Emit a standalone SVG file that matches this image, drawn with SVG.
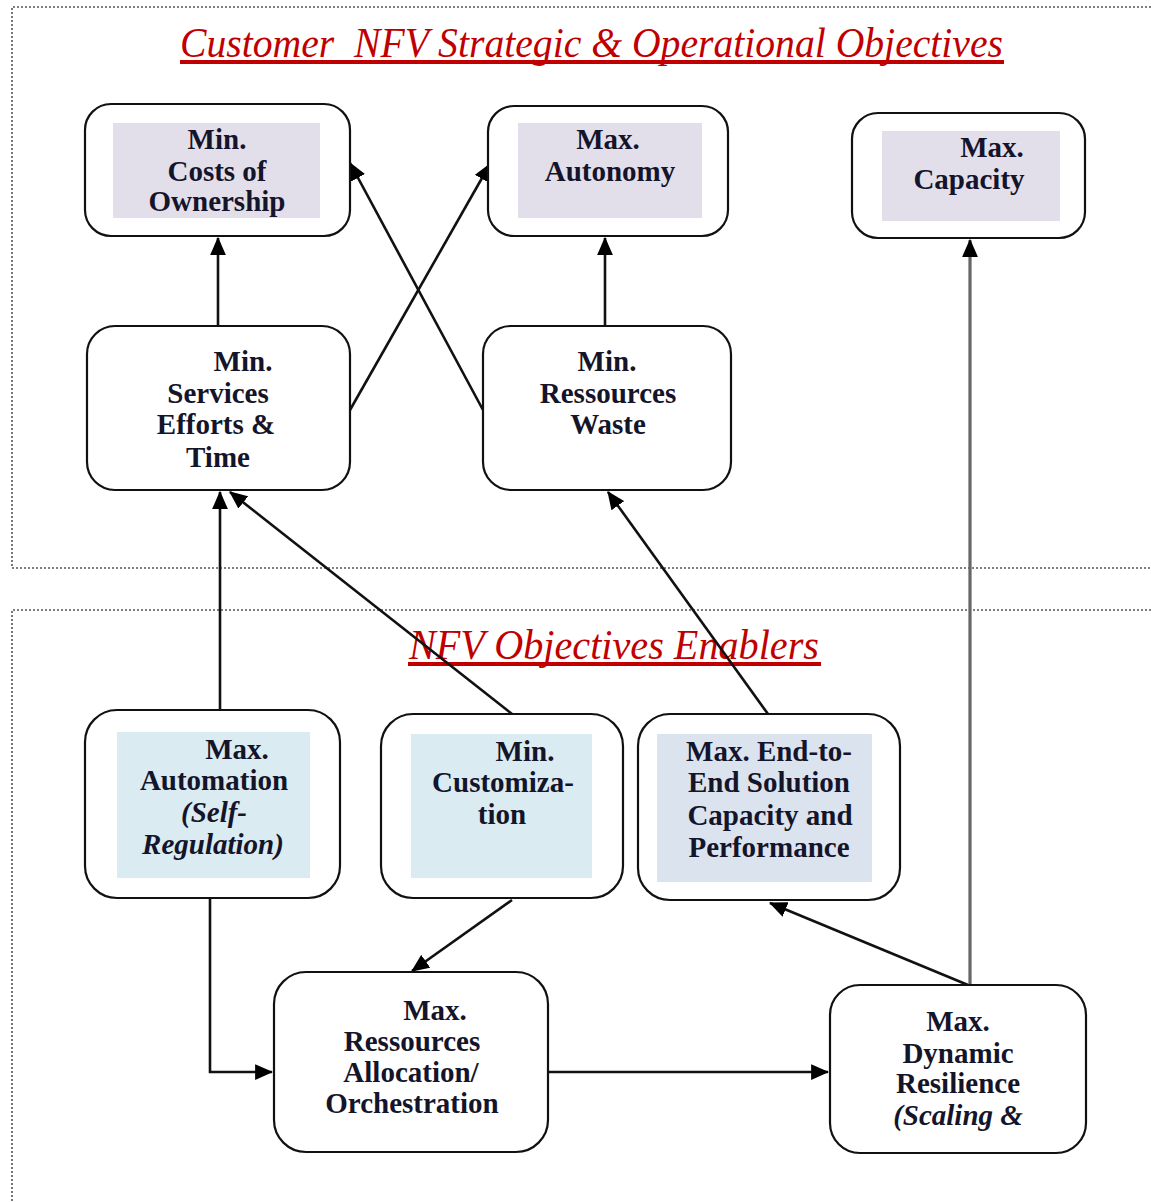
<svg xmlns="http://www.w3.org/2000/svg" width="1151" height="1202" viewBox="0 0 1151 1202">
  <style>
    .frame { fill: none; stroke: #555; stroke-width: 1.6; stroke-dasharray: 2 2; }
    .title { font-family: 'Liberation Serif', Tinos, 'Times New Roman', 'DejaVu Serif', serif; font-style: italic; fill: #c00000; white-space: pre; }
    .uline { fill: #c00000; }
    .box { fill: #fff; stroke: #111; stroke-width: 2.2; }
    .lav { fill: #e3dfea; }
    .blue { fill: #daebf2; }
    .steel { fill: #dbe3ef; }
    .lbl { font-family: 'Liberation Serif', Tinos, 'Times New Roman', 'DejaVu Serif', serif; font-weight: bold; font-size: 29px; fill: #14142a; text-anchor: middle; }
    .it { font-style: italic; }
    .conn { fill: none; stroke: #111; stroke-width: 2.6; }
    .grey { stroke: #666; stroke-width: 3.2; }
  </style>
  <defs>
    <marker id="arrow" viewBox="0 0 16 14" refX="15" refY="7" markerWidth="18" markerHeight="16" markerUnits="userSpaceOnUse" orient="auto">
      <path d="M0,0 L16,7 L0,14 Z" fill="#000"/>
    </marker>
  </defs>

  <rect width="1151" height="1202" fill="#fff"/>

  <!-- section frames -->
  <g id="frames">
    <path class="frame" d="M1151,7 H12 V568 H1151"/>
    <path class="frame" d="M1151,610 H12 V1202"/>
  </g>

  <!-- section titles -->
  <g id="title-objectives">
    <text class="title" x="180" y="57" font-size="42" textLength="823" lengthAdjust="spacingAndGlyphs" xml:space="preserve">Customer  NFV Strategic &amp; Operational Objectives</text>
    <rect class="uline" x="180" y="60" width="824" height="4"/>
  </g>
  <g id="title-enablers">
    <text class="title" x="409" y="659" font-size="42" textLength="410" lengthAdjust="spacingAndGlyphs">NFV Objectives Enablers</text>
    <rect class="uline" x="408" y="662" width="413" height="4"/>
  </g>

  <!-- connectors -->
  <g id="connectors">
    <line class="conn" x1="218" y1="326" x2="218" y2="238" marker-end="url(#arrow)"/>
    <line class="conn" x1="350" y1="410" x2="490" y2="164" marker-end="url(#arrow)"/>
    <line class="conn" x1="483" y1="410" x2="350" y2="163" marker-end="url(#arrow)"/>
    <line class="conn" x1="605" y1="326" x2="605" y2="238" marker-end="url(#arrow)"/>
    <line class="conn grey" x1="970" y1="985" x2="970" y2="240" marker-end="url(#arrow)"/>
    <line class="conn" x1="220" y1="710" x2="220" y2="492" marker-end="url(#arrow)"/>
    <line class="conn" x1="512" y1="714" x2="230" y2="492" marker-end="url(#arrow)"/>
    <line class="conn" x1="768" y1="714" x2="608" y2="492" marker-end="url(#arrow)"/>
    <path class="conn" d="M210,898 V1072 H272" marker-end="url(#arrow)"/>
    <line class="conn" x1="512" y1="900" x2="412" y2="971" marker-end="url(#arrow)"/>
    <line class="conn" x1="548" y1="1072" x2="828" y2="1072" marker-end="url(#arrow)"/>
    <line class="conn" x1="968" y1="985" x2="770" y2="903" marker-end="url(#arrow)"/>
  </g>

  <!-- objectives -->
  <g id="min-costs">
    <rect class="box" x="85" y="104" width="265" height="132" rx="26"/>
    <rect class="lav" x="113" y="123" width="207" height="95"/>
    <text class="lbl" x="217" y="149">Min.</text>
    <text class="lbl" x="217" y="181">Costs of</text>
    <text class="lbl" x="217" y="211">Ownership</text>
  </g>
  <g id="max-autonomy">
    <rect class="box" x="488" y="106" width="240" height="130" rx="26"/>
    <rect class="lav" x="518" y="123" width="184" height="95"/>
    <text class="lbl" x="608" y="149">Max.</text>
    <text class="lbl" x="610" y="181">Autonomy</text>
  </g>
  <g id="max-capacity">
    <rect class="box" x="852" y="113" width="233" height="125" rx="26"/>
    <rect class="lav" x="882" y="131" width="178" height="90"/>
    <text class="lbl" x="992" y="157">Max.</text>
    <text class="lbl" x="969" y="189">Capacity</text>
  </g>
  <g id="min-services-efforts">
    <rect class="box" x="87" y="326" width="263" height="164" rx="28"/>
    <text class="lbl" x="243" y="371">Min.</text>
    <text class="lbl" x="218" y="403">Services</text>
    <text class="lbl" x="216" y="434">Efforts &amp;</text>
    <text class="lbl" x="218" y="467">Time</text>
  </g>
  <g id="min-resources-waste">
    <rect class="box" x="483" y="326" width="248" height="164" rx="28"/>
    <text class="lbl" x="607" y="371">Min.</text>
    <text class="lbl" x="608" y="403">Ressources</text>
    <text class="lbl" x="608" y="434">Waste</text>
  </g>

  <!-- enablers -->
  <g id="max-automation">
    <rect class="box" x="85" y="710" width="255" height="188" rx="32"/>
    <rect class="blue" x="117" y="732" width="193" height="146"/>
    <text class="lbl" x="237" y="759">Max.</text>
    <text class="lbl" x="214" y="790">Automation</text>
    <text class="lbl it" x="214" y="822">(Self-</text>
    <text class="lbl it" x="213" y="854">Regulation)</text>
  </g>
  <g id="min-customization">
    <rect class="box" x="381" y="714" width="242" height="184" rx="32"/>
    <rect class="blue" x="411" y="734" width="181" height="144"/>
    <text class="lbl" x="525" y="761">Min.</text>
    <text class="lbl" x="503" y="792">Customiza-</text>
    <text class="lbl" x="502" y="824">tion</text>
  </g>
  <g id="max-end-to-end">
    <rect class="box" x="638" y="714" width="262" height="186" rx="32"/>
    <rect class="steel" x="657" y="734" width="215" height="148"/>
    <text class="lbl" x="769" y="761">Max. End-to-</text>
    <text class="lbl" x="769" y="792">End Solution</text>
    <text class="lbl" x="770" y="825">Capacity and</text>
    <text class="lbl" x="769" y="857">Performance</text>
  </g>
  <g id="max-resources-allocation">
    <rect class="box" x="274" y="972" width="274" height="180" rx="32"/>
    <text class="lbl" x="435" y="1020">Max.</text>
    <text class="lbl" x="412" y="1051">Ressources</text>
    <text class="lbl" x="411" y="1082">Allocation/</text>
    <text class="lbl" x="412" y="1113">Orchestration</text>
  </g>
  <g id="max-dynamic-resilience">
    <rect class="box" x="830" y="985" width="256" height="168" rx="30"/>
    <text class="lbl" x="958" y="1031">Max.</text>
    <text class="lbl" x="958" y="1063">Dynamic</text>
    <text class="lbl" x="958" y="1093">Resilience</text>
    <text class="lbl it" x="958" y="1125">(Scaling &amp;</text>
  </g>
</svg>
